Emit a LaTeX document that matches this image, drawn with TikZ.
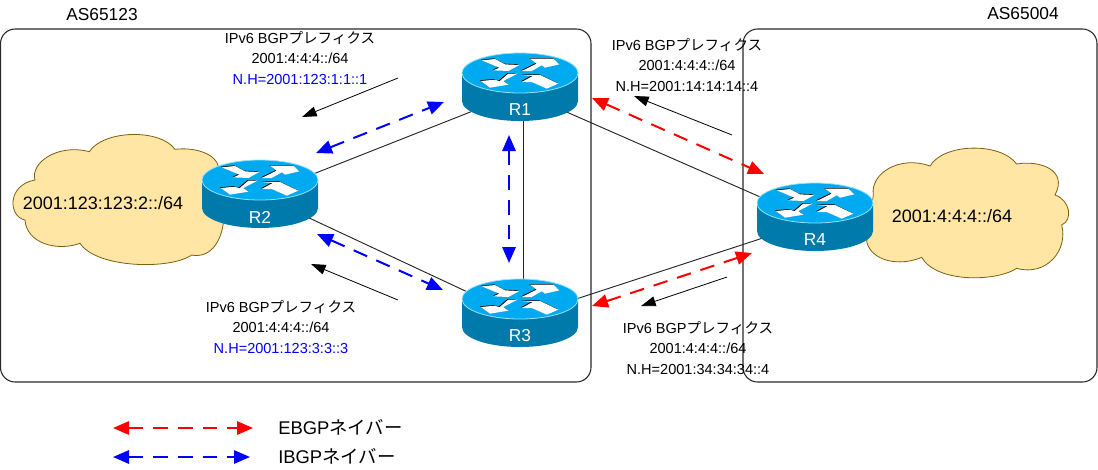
\documentclass[tikz,border=0pt]{standalone}
\usepackage{fontspec}
\setmainfont{Liberation Sans}
\newfontfamily\cjk{Noto Sans CJK JP}
\usetikzlibrary{arrows.meta}
\definecolor{routertop}{RGB}{0,170,240}
\definecolor{routerside}{RGB}{0,122,170}
\definecolor{routerrim}{RGB}{150,225,250}
\definecolor{cloudfill}{RGB}{255,230,165}
\definecolor{cloudline}{RGB}{125,95,15}
\definecolor{asline}{RGB}{40,40,40}
\tikzset{
  asbox/.style={draw=asline,line width=.8pt,rounded corners=11pt},
  link/.style={draw=black!85,line width=.7pt},
  peerbase/.style={line width=1.5pt,dash pattern=on 11pt off 7.5pt,
    {Triangle[length=12pt,width=10pt]}-{Triangle[length=12pt,width=10pt]}},
  ebgp/.style={peerbase,draw=red,color=red},
  ibgp/.style={peerbase,draw=blue,color=blue},
  advert/.style={draw=black,line width=.6pt,-{Triangle[length=11pt,width=7.5pt]}},
  cloudshape/.style={fill=cloudfill,draw=cloudline,line width=.6pt},
  infotext/.style={align=center,font=\fontsize{10.9pt}{15.3pt}\selectfont,inner sep=0pt},
  bigtext/.style={font=\fontsize{13.5pt}{16pt}\selectfont,inner sep=0pt},
  titletext/.style={font=\fontsize{13pt}{15pt}\selectfont,inner sep=0pt},
  legendtext/.style={font=\fontsize{13.8pt}{16pt}\selectfont,inner sep=0pt,anchor=west},
  routerhit/.style={minimum width=87pt,minimum height=51pt,inner sep=0pt,draw=none},
}
% Router icon: disc with four crossing arrows; #1 name, (#2,#3) centre of the top face
\newcommand{\routericon}[3]{%
  \begin{scope}[shift={(#2,#3)}]
    \fill[routerside] (-58,0) -- (-58,28) arc[start angle=180,end angle=0,x radius=58,y radius=20]
      -- (58,0) -- cycle;
    \fill[routertop,draw=routerrim,line width=.6pt] (0,0) ellipse[x radius=58,y radius=20];
    \begin{scope}[scale=1/3,shift={(-240,-98)}]
      \foreach \dx/\dy/\col in {-2.5/-2/black,0/0/white}{
        \begin{scope}[shift={(\dx,\dy)}]
          \fill[\col] (125,60) -- (165,56) -- (195,72) -- (238,74) -- (205,92) -- (160,90) -- (178,82) -- cycle;
          \fill[\col] (245,92) -- (290,70) -- (270,55) -- (340,55) -- (358,72) -- (315,82) -- (305,75) -- (275,92) -- cycle;
          \fill[\col] (232,100) -- (190,122) -- (205,133) -- (150,142) -- (122,122) -- (165,118) -- (178,123) -- (205,100) -- cycle;
          \fill[\col] (245,125) -- (278,107) -- (245,104) -- (300,104) -- (355,130) -- (320,145) -- (275,125) -- cycle;
        \end{scope}
      }
    \end{scope}
    \node[text=white,font=\fontsize{13pt}{15pt}\selectfont,inner sep=0pt] at (0,37) {#1};
  \end{scope}%
}
\begin{document}
\begin{tikzpicture}[x=.75pt,y=-.75pt]
\useasboundingbox (0,0) rectangle (1098,469);

% Autonomous system boundaries
\draw[asbox] (0.5,29) rectangle (591,382);
\draw[asbox] (743,29) rectangle (1097,382);
\node[titletext] (as1) at (102,15) {AS65123};
\node[titletext] (as2) at (1023,14) {AS65004};

% Customer prefixes
\begin{scope}[scale=1/3,shift={(0,390)}]
  \path[cloudshape] (75,270) .. controls (25,260) and (20,165) .. (105,150)
    .. controls (90,100) and (170,40) .. (268,65)
    .. controls (310,0) and (480,-5) .. (525,58)
    .. controls (590,50) and (650,75) .. (655,110)
    -- (670,280)
    .. controls (660,350) and (620,385) .. (575,375)
    .. controls (510,420) and (290,415) .. (240,340)
    .. controls (170,365) and (80,340) .. (75,270) -- cycle;
\end{scope}
\begin{scope}[scale=1/3,shift={(2220,420)}]
  \path[cloudshape] (400,165) .. controls (390,100) and (480,45) .. (570,78)
    .. controls (610,10) and (780,5) .. (830,72)
    .. controls (900,60) and (985,90) .. (945,165)
    .. controls (990,180) and (1000,240) .. (965,255)
    .. controls (985,330) and (920,410) .. (830,385)
    .. controls (770,425) and (590,430) .. (545,352)
    .. controls (480,380) and (395,365) .. (380,305) -- cycle;
\end{scope}
\node[bigtext] (prefix1) at (103,203) {2001:123:123:2::/64};
\node[bigtext] (prefix2) at (952,216) {2001:4:4:4::/64};

% Invisible router outlines used as link anchors
\node[routerhit] (R1) at (521,92) {};
\node[routerhit] (R2) at (260,195) {};
\node[routerhit] (R3) at (521,317) {};
\node[routerhit] (R4) at (815,221) {};

% Physical links
\draw[link] (R1.center) -- (R2.center);
\draw[link] (R2.center) -- (R3.center);
\draw[link] ([xshift=2pt]R1.center) -- ([xshift=2pt]R3.center);
\draw[link] (R1.center) -- (R4.center);
\draw[link] (R3.center) -- (R4.center);

% Routers
\routericon{R1}{520}{73}
\routericon{R2}{260}{180}
\routericon{R3}{520}{299}
\routericon{R4}{815}{203}

% End points of the peering and advertisement arrows
\coordinate (b21) at (316,153);
\coordinate (b12) at (444,102);
\coordinate (b13) at (509,135);
\coordinate (b31) at (509,263);
\coordinate (b23) at (317,234);
\coordinate (b32) at (443,290);
\coordinate (r14) at (592,98);
\coordinate (r41) at (764,174);
\coordinate (r34) at (592,306);
\coordinate (r43) at (752,253);
\coordinate (l1a) at (113,428);
\coordinate (l1b) at (253,428);
\coordinate (l2a) at (113,457);
\coordinate (l2b) at (250,457);
\coordinate (a1s) at (398,78);
\coordinate (a1e) at (302,117);
\coordinate (a2s) at (398,300);
\coordinate (a2e) at (311,264);
\coordinate (a3s) at (732,135);
\coordinate (a3e) at (634,96);
\coordinate (a4s) at (727,277);
\coordinate (a4e) at (641,306);

% BGP sessions
\draw[ibgp] (b21) -- (b12);
\draw[ibgp] (b13) -- (b31);
\draw[ibgp] (b23) -- (b32);
\draw[ebgp] (r14) -- (r41);
\draw[ebgp] (r34) -- (r43);

% Prefix advertisements
\draw[advert] (a1s) -- (a1e);
\draw[advert] (a2s) -- (a2e);
\draw[advert] (a3s) -- (a3e);
\draw[advert] (a4s) -- (a4e);

% Advertisement details
\node[infotext] (info1) at (300,58) {IPv6 BGP{\cjk プレフィクス}\\2001:4:4:4::/64\\\textcolor{blue}{N.H=2001:123:1:1::1}};
\node[infotext] (info2) at (687,65) {IPv6 BGP{\cjk プレフィクス}\\2001:4:4:4::/64\\N.H=2001:14:14:14::4};
\node[infotext] (info3) at (281,327) {IPv6 BGP{\cjk プレフィクス}\\2001:4:4:4::/64\\\textcolor{blue}{N.H=2001:123:3:3::3}};
\node[infotext] (info4) at (698,348) {IPv6 BGP{\cjk プレフィクス}\\2001:4:4:4::/64\\N.H=2001:34:34:34::4};

% Legend
\draw[ebgp] (l1a) -- (l1b);
\draw[ibgp] (l2a) -- (l2b);
\node[legendtext] (lt1) at (278,427) {EBGP{\cjk ネイバー}};
\node[legendtext] (lt2) at (278,456) {IBGP{\cjk ネイバー}};
\end{tikzpicture}
\end{document}
